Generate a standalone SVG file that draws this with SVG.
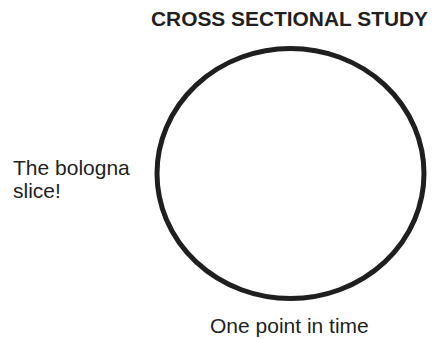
<svg xmlns="http://www.w3.org/2000/svg" width="436" height="339" viewBox="0 0 436 339">
<style>
text { font-family: "Liberation Sans", Arial, sans-serif; fill: #231f20; }
.title { font-weight: bold; font-size: 20px; }
.lbl { font-size: 21px; }
</style>
<rect width="436" height="339" fill="#ffffff"/>
<g id="title"><text class="title" x="151" y="26" textLength="277" lengthAdjust="spacingAndGlyphs">CROSS SECTIONAL STUDY</text></g>
<g id="slice">
<ellipse cx="290.5" cy="173.5" rx="133.5" ry="125" fill="none" stroke="#1f1f1f" stroke-width="5"/>
</g>
<g id="side-label"><text class="lbl" x="13" y="175">The bologna</text><text class="lbl" x="13" y="198">slice!</text></g>
<g id="bottom-label"><text class="lbl" x="210" y="333">One point in time</text></g>
<g id="connectors"></g>
</svg>
